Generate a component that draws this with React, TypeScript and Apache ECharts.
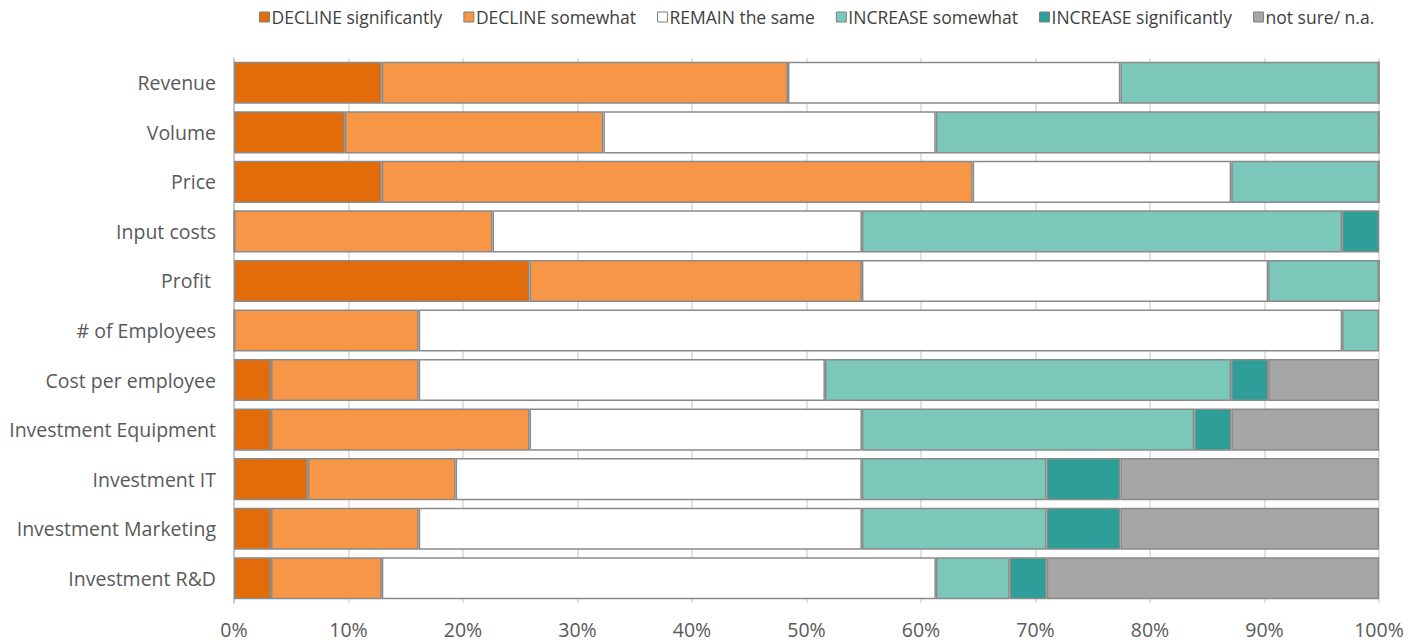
import React, { useEffect, useRef } from "react";
import * as echarts from "echarts";

const categories = [
  "Revenue",
  "Volume",
  "Price",
  "Input costs",
  "Profit ",
  "# of Employees",
  "Cost per employee",
  "Investment Equipment",
  "Investment IT",
  "Investment Marketing",
  "Investment R&D",
];

const seriesNames = [
  "DECLINE significantly",
  "DECLINE somewhat",
  "REMAIN the same",
  "INCREASE somewhat",
  "INCREASE significantly",
  "not sure/ n.a.",
];

// Share of respondents (%) per answer, one value per category
const declineSignificantly = [12.9, 9.68, 12.9, 0, 25.81, 0, 3.23, 3.23, 6.45, 3.23, 3.23];
const declineSomewhat = [35.48, 22.58, 51.61, 22.58, 29.03, 16.13, 12.9, 22.58, 12.9, 12.9, 9.68];
const remainSame = [29.03, 29.03, 22.58, 32.26, 35.48, 80.65, 35.48, 29.03, 35.48, 38.71, 48.39];
const increaseSomewhat = [22.58, 38.71, 12.9, 41.94, 9.68, 3.23, 35.48, 29.03, 16.13, 16.13, 6.45];
const increaseSignificantly = [0, 0, 0, 3.23, 0, 0, 3.23, 3.23, 6.45, 6.45, 3.23];
const notSure = [0, 0, 0, 0, 0, 0, 9.68, 12.9, 22.58, 22.58, 29.03];

const seriesValues = [
  declineSignificantly,
  declineSomewhat,
  remainSame,
  increaseSomewhat,
  increaseSignificantly,
  notSure,
];

const seriesColors = ["#E36C0A", "#F79646", "#FFFFFF", "#7BC7B9", "#2E9E98", "#A6A6A6"];

const FONT = "'Open Sans', sans-serif";

export default function App() {
  const ref = useRef<HTMLDivElement>(null);

  useEffect(() => {
    document.body.style.margin = "0";
    if (!ref.current) return;
    const chart = echarts.init(ref.current, undefined, { renderer: "svg" });
    chart.setOption({
      animation: false,
      backgroundColor: "#ffffff",
      textStyle: { fontFamily: FONT },
      legend: {
        top: 3,
        left: 254,
        itemWidth: 10,
        itemHeight: 10,
        itemGap: 21,
        icon: "rect",
        textStyle: { fontSize: 17.5, color: "#404040", fontFamily: FONT, padding: [0, 0, 0, -3] },
        data: seriesNames.map((n) => ({
          name: n,
          itemStyle: { borderColor: "#7f7f7f", borderWidth: 1 },
        })),
      },
      grid: { left: 234, right: 40, top: 58, bottom: 38 },
      xAxis: {
        type: "value",
        min: 0,
        max: 100,
        interval: 10,
        axisLabel: {
          formatter: "{value}%",
          fontSize: 19.5,
          color: "#595959",
          fontFamily: FONT,
          margin: 16,
        },
        axisLine: { show: false },
        axisTick: { show: false },
        splitLine: { show: true, lineStyle: { color: "#d9d9d9", width: 1.5 } },
      },
      yAxis: {
        type: "category",
        data: categories,
        inverse: true,
        axisLabel: { fontSize: 19.5, color: "#595959", fontFamily: FONT, margin: 18 },
        axisLine: { show: true, lineStyle: { color: "#bfbfbf", width: 1.5 } },
        axisTick: { show: false },
      },
      series: seriesNames.map((name, i) => ({
        name,
        type: "bar",
        stack: "total",
        barCategoryGap: "15%",
        data: seriesValues[i],
        itemStyle: { color: seriesColors[i], borderColor: "#8a8a8a", borderWidth: 1.5 },
      })),
    });
    return () => chart.dispose();
  }, []);

  return <div ref={ref} style={{ width: 1419, height: 641 }} />;
}
